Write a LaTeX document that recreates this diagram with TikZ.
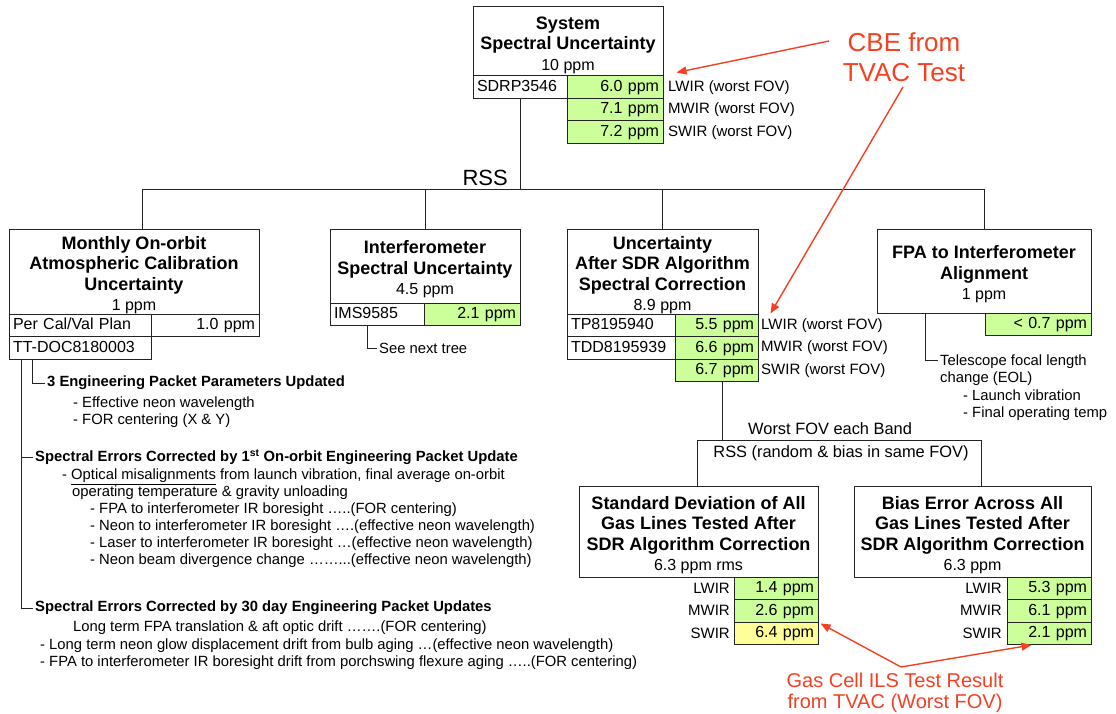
\documentclass[tikz,border=0pt]{standalone}
\usepackage{fontspec}
\setmainfont{Liberation Sans}
\usetikzlibrary{arrows.meta}
\definecolor{valgreen}{RGB}{204,255,153}
\definecolor{valyellow}{RGB}{255,255,153}
\definecolor{calloutred}{RGB}{245,65,35}
\definecolor{linegray}{RGB}{35,35,35}
\newcommand\ttlfont{\fontsize{18}{20.5}\selectfont\bfseries}
\newcommand\valfont{\fontsize{16}{20.5}\selectfont\mdseries}
\newcommand\cellfont{\fontsize{16}{18}\selectfont}
\newcommand\lblfont{\fontsize{15}{17}\selectfont}
\newcommand\notefont{\fontsize{14.8}{17}\selectfont}
\newcommand\notebold{\fontsize{14.8}{17}\selectfont\bfseries}
\newcommand\midfont{\fontsize{16.4}{18}\selectfont}
\newcommand\boxtop{\rule{0pt}{20pt}}
\begin{document}
\begin{tikzpicture}[x=1pt,y=-1pt,
  box/.style={draw=linegray, line width=1pt, inner sep=0pt, align=center, font=\ttlfont},
  cell/.style={draw=linegray, line width=1pt, inner xsep=4pt, inner ysep=0pt, minimum height=22.5pt, text height=11.5pt, text depth=3pt, font=\cellfont},
  val/.style={cell, fill=valgreen, align=right},
  lbl/.style={inner sep=1pt, font=\lblfont},
  note/.style={inner sep=2pt, align=left, font=\notefont},
  link/.style={draw=linegray, line width=1pt},
  callout/.style={draw=calloutred, line width=1.4pt, -{Triangle[length=10pt,width=8pt]}}]
\path[use as bounding box, fill=white] (0,0) rectangle (1116,714);

\node[box, minimum width=190pt, minimum height=69pt] (sys) at (568,41.5) {\boxtop System\\Spectral Uncertainty\\{\valfont 10 ppm}};
\node[cell, text width=86pt, align=left] (sdrp) at (520,87.25) {SDRP3546};
\node[val, text width=88pt] (sysL) at (615,87.25) {6.0 ppm};
\node[val, text width=88pt] (sysM) at (615,109.75) {7.1 ppm};
\node[val, text width=88pt] (sysS) at (615,132.25) {7.2 ppm};
\node[lbl, anchor=west] (sysLl) at (667,87.25) {LWIR (worst FOV)};
\node[lbl, anchor=west] (sysMl) at (667,109.75) {MWIR (worst FOV)};
\node[lbl, anchor=west] (sysSl) at (667,132.25) {SWIR (worst FOV)};

\node[box, minimum width=250pt, minimum height=85pt] (mon) at (134,271.5) {\boxtop Monthly On-orbit\\Atmospheric Calibration\\Uncertainty\\{\valfont 1 ppm}};
\node[cell, text width=134pt, align=left] (percal) at (80,325.25) {Per Cal/Val Plan};
\node[cell, text width=100pt, align=right] (monv) at (205,325.25) {1.0 ppm};
\node[cell, text width=134pt, align=left] (ttdoc) at (80,347.75) {TT-DOC8180003};

\node[box, minimum width=190pt, minimum height=74pt] (int) at (425,266) {\boxtop Interferometer\\Spectral Uncertainty\\{\valfont 4.5 ppm}};
\node[cell, text width=86pt, align=left] (ims) at (377,314.25) {IMS9585};
\node[val, text width=88pt] (intv) at (472,314.25) {2.1 ppm};
\node[note, anchor=west] (snt) at (377,348) {See next tree};

\node[box, minimum width=191pt, minimum height=85pt] (sdr) at (662.5,271.5) {\boxtop Uncertainty\\After SDR Algorithm\\Spectral Correction\\{\valfont 8.9 ppm}};
\node[cell, text width=100pt, align=left] (tp) at (621,325.25) {TP8195940};
\node[cell, text width=100pt, align=left] (tdd) at (621,347.75) {TDD8195939};
\node[val, text width=75pt] (sdrL) at (716.5,325.25) {5.5 ppm};
\node[val, text width=75pt] (sdrM) at (716.5,347.75) {6.6 ppm};
\node[val, text width=75pt] (sdrS) at (716.5,370.25) {6.7 ppm};
\node[lbl, anchor=west] (sdrLl) at (760,325.25) {LWIR (worst FOV)};
\node[lbl, anchor=west] (sdrMl) at (760,347.75) {MWIR (worst FOV)};
\node[lbl, anchor=west] (sdrSl) at (760,370.25) {SWIR (worst FOV)};

\node[box, minimum width=214pt, minimum height=84pt] (fpa) at (984,271) {\boxtop FPA to Interferometer\\Alignment\\{\valfont 1 ppm}};
\node[val, text width=98pt] (fpav) at (1038,324.25) {< 0.7 ppm};
\node[note, anchor=north west] (tel) at (938,352.5) {Telescope focal length\\change (EOL)};
\node[note, anchor=north west] (tellist) at (961,387.5) {- Launch vibration\\- Final operating temp};

\coordinate (bus) at (520,190);
\coordinate (busW) at (142,190);
\coordinate (busE) at (984,190);
\draw[link] (sdrp.south) -- (bus);
\draw[link] (busW |- mon.north) -- (busW) -- (busE) -- (fpa.north);
\draw[link] (int.north) -- (int.north |- bus);
\draw[link] (sdr.north) -- (sdr.north |- bus);
\node[inner sep=1pt, font=\fontsize{22}{24}\selectfont, anchor=south east] (rss) at (509,187) {RSS};

\node[note, font=\notebold, anchor=west] (h1) at (45,383) {3 Engineering Packet Parameters Updated};
\node[note, anchor=north west] (h1list) at (71,394.5) {- Effective neon wavelength\\- FOR centering (X \& Y)};
\node[note, font=\notebold, anchor=west] (h2) at (33,457) {Spectral Errors Corrected by 1\textsuperscript{st} On-orbit Engineering Packet Update};
\node[note, anchor=north west] (h2a) at (60,466.5) {- \underline{Optical misalignments} from launch vibration, final average on-orbit};
\node[note, anchor=north west] (h2b) at (70,483.5) {operating temperature \& gravity unloading};
\node[note, anchor=north west] (h2list) at (88,500.5) {- FPA to interferometer IR boresight …..(FOR centering)\\- Neon to interferometer IR boresight ….(effective neon wavelength)\\- Laser to interferometer IR boresight …(effective neon wavelength)\\- Neon beam divergence change ……...(effective neon wavelength)};
\node[note, font=\notebold, anchor=west] (h3) at (33,608) {Spectral Errors Corrected by 30 day Engineering Packet Updates};
\node[note, anchor=north west] (h3a) at (71,618.5) {Long term FPA translation \& aft optic drift …….(FOR centering)};
\node[note, anchor=north west] (h3list) at (38,636.5) {- Long term neon glow displacement drift from bulb aging …(effective neon wavelength)\\- FPA to interferometer IR boresight drift from porchswing flexure aging …..(FOR centering)};

\coordinate (trunk) at ([xshift=13pt]ttdoc.south west);
\draw[link] (trunk) |- (h3.west);
\draw[link] (trunk |- h2.west) -- (h2.west);
\draw[link] ([xshift=24pt]ttdoc.south west) |- (h1.west);
\draw[link] ([xshift=-10pt]ims.south) |- (snt.west);
\draw[link] ([xshift=49pt]fpa.south west) |- ([yshift=-7.5pt]tel.north west);

\node[box, minimum width=239pt, minimum height=91pt] (std) at (698.5,531.5) {\boxtop Standard Deviation of All\\Gas Lines Tested After\\SDR Algorithm Correction\\{\valfont 6.3 ppm rms}};
\node[val, text width=76pt] (stdL) at (776,588.25) {1.4 ppm};
\node[val, text width=76pt] (stdM) at (776,610.75) {2.6 ppm};
\node[val, text width=76pt, fill=valyellow] (stdS) at (776,633.25) {6.4 ppm};
\node[lbl, anchor=east] (stdLl) at (731,588.25) {LWIR};
\node[lbl, anchor=east] (stdMl) at (731,610.75) {MWIR};
\node[lbl, anchor=east] (stdSl) at (731,633.25) {SWIR};

\node[box, minimum width=237pt, minimum height=91pt] (bias) at (972.5,531.5) {\boxtop Bias Error Across All\\Gas Lines Tested After\\SDR Algorithm Correction\\{\valfont 6.3 ppm}};
\node[val, text width=76pt] (biasL) at (1049,588.25) {5.3 ppm};
\node[val, text width=76pt] (biasM) at (1049,610.75) {6.1 ppm};
\node[val, text width=76pt] (biasS) at (1049,633.25) {2.1 ppm};
\node[lbl, anchor=east] (biasLl) at (1003,588.25) {LWIR};
\node[lbl, anchor=east] (biasMl) at (1003,610.75) {MWIR};
\node[lbl, anchor=east] (biasSl) at (1003,633.25) {SWIR};

\coordinate (brL) at (697,440);
\coordinate (brR) at (981,440);
\draw[link] (brL |- std.north) -- (brL) -- (brR) -- (brR |- bias.north);
\draw[link] ([xshift=5.5pt]sdrS.south) -- ([xshift=5.5pt]sdrS.south |- brL);
\node[inner sep=1pt, font=\midfont, anchor=west] (wfov) at (747,429) {Worst FOV each Band};
\node[inner sep=1pt, font=\midfont] (rsslbl) at (841,453) {RSS (random \& bias in same FOV)};

\node[inner sep=0pt, align=center, text=calloutred, font=\fontsize{26}{30}\selectfont] (cbe) at (904,57) {CBE from\\TVAC Test};
\coordinate (cbeA) at (829,41);
\coordinate (cbeB) at (903,87);
\draw[callout] (cbeA) -- ([xshift=13pt,yshift=3pt]sysL.north east);
\draw[callout] (cbeB) -- ([xshift=12pt,yshift=1pt]sdr.south east);

\node[inner sep=0pt, align=center, text=calloutred, font=\fontsize{20}{21}\selectfont] (gas) at (895,692.5) {Gas Cell ILS Test Result\\from TVAC (Worst FOV)};
\coordinate (gasV) at (901,667);
\draw[callout] (gasV) -- ([xshift=2pt,yshift=-2pt]stdS.north east);
\draw[callout] (gasV) -- ([xshift=-60pt]biasS.south east);
\end{tikzpicture}
\end{document}
